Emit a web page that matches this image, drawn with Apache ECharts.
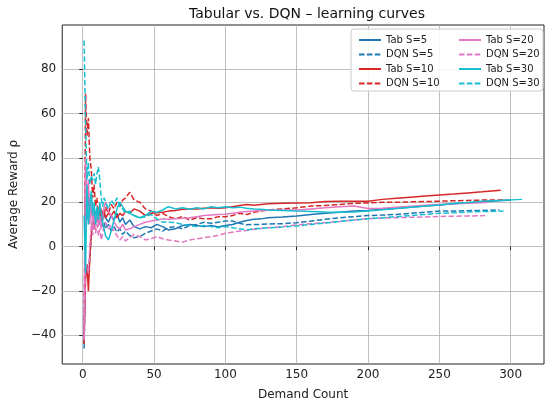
<!DOCTYPE html>
<html>
<head>
<meta charset="utf-8">
<script src="https://cdn.jsdelivr.net/npm/echarts@6/dist/echarts.min.js"></script>
<style>
  html, body { margin: 0; padding: 0; background: #fff; }
  #chart { width: 550px; height: 409px; }
</style>
</head>
<body>
<div id="chart"></div>
<script>
// shared x positions (demand count) for the sampled points
const demand = [1,2,3,4,5,6,7,8,9,10,11,12,13,14,15,16,18,20,22,24,26,28,30,33,36,40,44,48,52,56,60,65,70,75,80,85,90,95,100,105,110,115,120,125,130,140,150,160,170,180,190,200,210,220,230,240,250,260,270,280];

const seriesNames = ["Tab S=5", "DQN S=5", "Tab S=10", "DQN S=10", "Tab S=20", "DQN S=20", "Tab S=30", "DQN S=30"];
const seriesColors = ["#1f77b4", "#1f77b4", "#d62728", "#d62728", "#e377c2", "#e377c2", "#17becf", "#17becf"];

const tabS5 = [-44,29,12,25,14,22,13,18,12,16,13,17,14,12,15,13,11,14,12,15,11,13,10,12,9,8,9,8.5,10,9,7.5,8,9.5,10,9.5,9,9.5,8.8,9.5,10,11,11.8,12.3,12.5,13,13.3,13.8,14.5,15,15.5,16,16.3,16.8,17.3,17.8,18.3,18.8,19.3,19.8,20.2];
const dqnS5 = [-46,-10,-8,-12,-5,5,12,8,16,12,15,10,13,9,11,8,10,7,9,6.5,8,5.5,7,5,4,4.5,6,7,8,7,8.5,9,8,9.5,10,11,10.5,11,11.5,11.5,10.5,9.8,10,10,10.2,10.3,10.8,11.5,12.3,13,13.5,14,14.2,14.5,15,15.5,16,16,16.2,16.3];
const tabS10 = [-42,-15,-8,-20,-5,5,12,8,14,11,16,13,17,14,16,13,15,14,16,13,15,14,16,15,17,16,14,15,15.3,15.5,16,16.3,16.8,17,17,17.3,17.5,17.3,17.5,18,18.5,19,18.7,19,19.3,19.5,19.7,19.8,20.3,20.5,20.4,20.5,21.3,21.8,22.3,22.8,23.3,23.7,24.2,24.7];
const dqnS10 = [-44,69,50,58,40,35,22,28,18,22,14,18,12,16,14,18,15,19,17,20,18,21,22,24.5,21,20,17,16,14,15,13.5,12.5,13.5,12,13,12.5,12.5,13.5,13.5,14,15,14.5,15.5,16,16.5,17,17.5,18.3,18.5,19,19.5,19.7,20,20,20.2,20.3,20.5,20.7,20.8,21];
const tabS20 = [-42,40,20,30,10,22,8,18,10,16,9,14,8,12,18,20,16,14,11,9,8,10,7.5,8,9,10,11,11.5,12,12.5,12.3,12.5,12.8,13,13.5,14,14.3,14.5,14.6,15,15.5,15.8,16,16.3,16.5,16.5,16.5,17,17.5,18,18.3,17.2,17.3,17.8,18.2,18.6,19,19.3,19.6,19.8];
const dqnS20 = [-42,-10,-8,-12,0,10,5,14,6,10,5,8,3,6,9,11,8,10,7,5,3,4.5,2.5,4,5.5,4.5,3,3.5,4.5,3.5,3,2.5,2,3,3.5,4,4.5,5,6,6.5,7,7.3,7.8,8.2,8.5,9,9.8,10.3,10.8,11.3,12,12.6,12.8,13,13.2,13.4,13.6,13.7,13.8,13.9];
const tabS30 = [14,-12,28,10,18,25,14,20,10,18,12,20,15,11,8,5,3,7,12,17,20,18,16,15,14,13,14,16,15.5,16.5,18,17,17.5,16.8,17.5,17,18,17.5,18,17.5,17.8,17.3,17,16.8,16.5,16.3,16,15.8,15.6,15.5,15.6,16,16.6,17.2,17.8,18.3,18.8,19.4,19.9,20.4];
const dqnS30 = [93,55,30,38,28,32,30,33,28,33,36,30,22,18,22,20,17,21,19,22,18,17,15,16,14,13,13.5,14.5,12.5,11,11,10.8,10,9.5,9,9.5,9,8.5,9,8.5,8,7.5,8,8.2,8.5,8.8,9.3,10,10.6,11.3,12,12.6,13,13.5,14,14.5,15,15.3,15.6,15.8];

// final point of each run (they stop at different demand counts)
const endDemand = [300, 292, 293, 297, 284, 282, 308, 295];
const endReward = [21, 16.5, 25.4, 21, 20, 14, 21.3, 16];

const xTicks = [0, 50, 100, 150, 200, 250, 300];
const yTicks = [-40, -20, 0, 20, 40, 60, 80];

const allValues = [tabS5, dqnS5, tabS10, dqnS10, tabS20, dqnS20, tabS30, dqnS30];

const chart = echarts.init(document.getElementById("chart"), null, { renderer: "canvas" });

const series = allValues.map((vals, i) => {
  const pts = vals.map((v, k) => [demand[k], v]);
  pts.push([endDemand[i], endReward[i]]);
  return {
    name: seriesNames[i],
    type: "line",
    data: pts,
    symbol: "none",
    showSymbol: false,
    animation: false,
    lineStyle: {
      width: 1.5,
      color: seriesColors[i],
      type: i % 2 === 1 ? [5.5, 2.4] : "solid"
    },
    itemStyle: { color: seriesColors[i] }
  };
});

const font = "DejaVu Sans";
const legendCommon = {
  orient: "vertical",
  top: 30,
  itemWidth: 22,
  itemHeight: 10,
  itemGap: 4.5,
  itemStyle: { opacity: 0 },
  textStyle: { fontFamily: font, fontSize: 10, color: "#222" },
  selectedMode: false,
  z: 20
};

chart.setOption({
  animation: false,
  backgroundColor: "#fff",
  title: {
    text: "Tabular vs. DQN \u2013 learning curves",
    left: 302,
    top: 2,
    textAlign: "center",
    textStyle: { fontFamily: font, fontSize: 14, fontWeight: "normal", color: "#111" }
  },
  graphic: [{
    type: "rect",
    shape: { x: 351, y: 29, width: 192, height: 62, r: 3 },
    style: { fill: "rgba(255,255,255,0.85)", stroke: "#cccccc", lineWidth: 1 },
    z: 5
  }],
  legend: [
    Object.assign({}, legendCommon, {
      left: 353,
      data: seriesNames.slice(0, 4)
    }),
    Object.assign({}, legendCommon, {
      left: 453,
      data: seriesNames.slice(4, 8)
    })
  ],
  grid: {
    left: 61, right: 6, top: 25, bottom: 45,
    show: true,
    borderColor: "#222",
    borderWidth: 1,
    backgroundColor: "transparent"
  },
  xAxis: {
    type: "value",
    min: -14.35,
    max: 323.35,
    name: "Demand Count",
    nameLocation: "middle",
    nameGap: 25,
    nameTextStyle: { fontFamily: font, fontSize: 12, color: "#222" },
    axisLine: { show: false },
    axisTick: { show: true, inside: false, length: 3.5, customValues: xTicks, lineStyle: { color: "#222" } },
    axisLabel: { customValues: xTicks, margin: 5, fontFamily: font, fontSize: 12, color: "#222" },
    splitLine: { show: true, lineStyle: { color: "#b0b0b0", width: 0.8 } }
  },
  yAxis: {
    type: "value",
    min: -53,
    max: 100,
    name: "Average Reward \u03c1",
    nameLocation: "middle",
    nameGap: 40,
    nameTextStyle: { fontFamily: font, fontSize: 12, color: "#222" },
    axisLine: { show: false },
    axisTick: { show: true, inside: false, length: 3.5, customValues: yTicks, lineStyle: { color: "#222" } },
    axisLabel: {
      customValues: yTicks,
      margin: 6,
      fontFamily: font,
      fontSize: 12,
      color: "#222",
      formatter: (v) => String(v).replace("-", "\u2212")
    },
    splitLine: { show: true, lineStyle: { color: "#b0b0b0", width: 0.8 } }
  },
  series
});
</script>
</body>
</html>
